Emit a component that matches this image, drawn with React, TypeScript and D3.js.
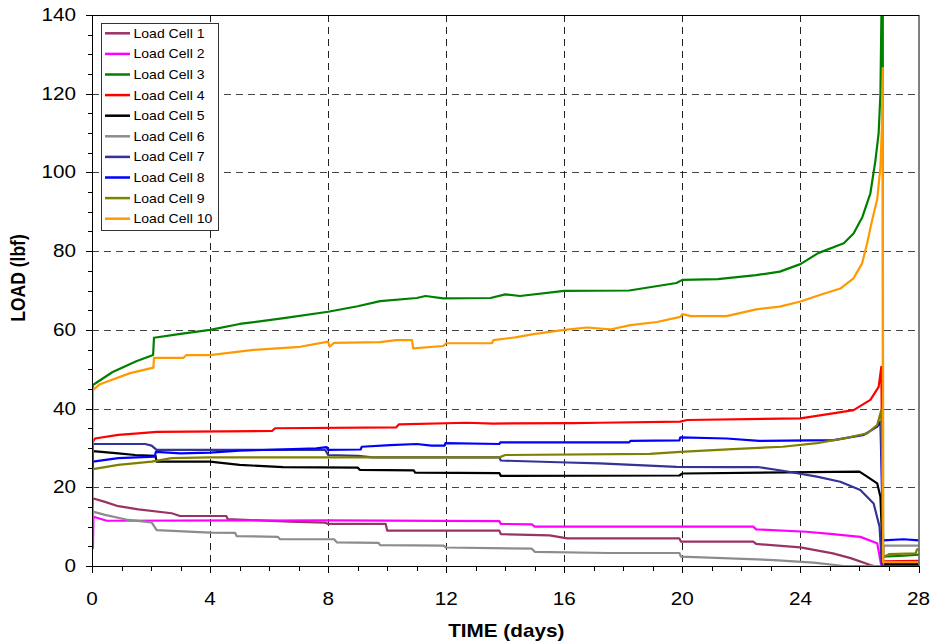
import React from "react";
import * as d3 from "d3";

const seriesNames = ["Load Cell 1","Load Cell 2","Load Cell 3","Load Cell 4","Load Cell 5","Load Cell 6","Load Cell 7","Load Cell 8","Load Cell 9","Load Cell 10"];
const seriesColors = ["#993366","#FF00FF","#008000","#FF0000","#000000","#8C8C8C","#333399","#0000FF","#808000","#FF9900"];

const xTicks = [0,4,8,12,16,20,24,28];
const yTicks = [0,20,40,60,80,100,120,140];

type P = [number, number];

const cell1: P[] = [[0,9],[0.02,17.2],[0.44,16.3],[0.89,15.2],[1.57,14.4],[2.7,13.4],[2.98,12.7],[4.55,12.7],[4.6,11.9],[6.7,11.3],[7.9,11.0],[8.0,10.7],[9.95,10.7],[10.0,9.0],[13.8,9.0],[13.85,8.1],[15.5,7.8],[16.1,7.0],[19.9,7.0],[19.95,6.2],[22.4,6.2],[22.5,5.6],[24,4.75],[25.1,3.2],[25.7,2.0],[26.37,0.25],[26.5,0],[28,0]];
const cell2: P[] = [[0,4.5],[0.03,4.5],[0.05,12.5],[0.5,11.5],[8,11.6],[13.8,11.4],[13.85,10.7],[14.9,10.6],[15,10.0],[22.4,10.0],[22.5,9.3],[24.2,8.7],[25.1,8.1],[26.03,7.4],[26.6,5.8],[26.73,0.5],[26.8,0],[28,0]];
const cell3: P[] = [[0,44],[0.03,46],[0.7,49.3],[1.5,52],[2.07,53.6],[2.1,58],[3,59],[4,60],[5,61.5],[6.5,63],[8,64.6],[9,66],[9.76,67.3],[11,68.1],[11.3,68.6],[11.9,68.0],[13.5,68.1],[14,69],[14.5,68.6],[16,69.9],[18.2,70],[19.8,71.9],[20,72.7],[21.2,72.9],[22.5,73.9],[23.3,74.8],[24,76.7],[24.6,79.5],[25.47,82],[25.8,84.5],[26.1,88.7],[26.37,94.7],[26.54,103],[26.65,110],[26.71,120],[26.76,150],[26.79,150],[26.8,2.4],[27.5,2.6],[28,2.9]];
const cell4: P[] = [[0,22],[0.03,31.6],[0.1,32.4],[0.89,33.3],[1.57,33.7],[2.19,34.1],[6.1,34.3],[6.2,35],[10.3,35.2],[10.4,36],[12.7,36.4],[13.6,36.2],[16.3,36.3],[17.2,36.4],[19.93,36.7],[20.16,37.1],[24,37.5],[25.1,38.8],[25.8,39.6],[26.37,42.2],[26.65,45.5],[26.74,50.6],[26.8,1.2],[28,1.3]];
const cell5: P[] = [[0,22],[0.03,29.2],[0.89,28.6],[1.46,28.2],[2.15,28.0],[2.19,26.5],[4,26.5],[5,25.7],[6.47,25.1],[9.0,25.0],[9.08,24.4],[10.9,24.3],[10.95,23.7],[13.8,23.6],[13.85,22.9],[19.9,23.0],[20,23.5],[26,24],[26.26,22.7],[26.6,21],[26.71,17.6],[26.8,0.5],[28,0.5]];
const cell6: P[] = [[0,10],[0.03,13.8],[0.44,13],[1.23,11.7],[2.02,11.1],[2.19,9.1],[4,8.5],[4.85,8.4],[4.9,7.6],[6.3,7.4],[6.37,6.8],[8.2,6.8],[8.3,6.0],[9.7,5.9],[9.76,5.3],[11.9,5.2],[12,4.7],[14.9,4.4],[15,3.6],[17.5,3.3],[19.9,3.3],[19.95,2.4],[23.1,1.5],[24.45,0.85],[25.47,0],[26.8,0],[26.82,5.2],[28,5.2]];
const cell7: P[] = [[0,22],[0.03,31],[1.8,31],[2.02,30.6],[2.19,29.5],[7.9,29.5],[8,28.2],[9,28.0],[9.5,27.6],[13.8,27.6],[13.85,26.8],[16.1,26.3],[17.2,26.1],[19.8,25.2],[21.5,25.1],[22.6,25.1],[23.4,24.2],[24.56,22.7],[25.35,21.4],[26.03,19.3],[26.48,15.9],[26.68,10.0],[26.76,0],[28,0]];
const cell8: P[] = [[0,22],[0.03,26.5],[0.89,27.4],[2.13,27.8],[2.16,29.0],[3,28.6],[4,28.8],[5,29.3],[7.6,29.9],[7.95,30.2],[8.0,29.5],[9.1,29.6],[9.14,30.3],[10.1,30.7],[11,31.0],[11.5,30.6],[11.95,30.6],[11.97,31.2],[13.8,31.0],[13.83,31.4],[18.2,31.4],[18.24,31.8],[19.9,31.9],[19.93,32.7],[21.5,32.4],[22.6,31.8],[25.13,32],[26.15,33.3],[26.6,35.4],[26.71,36.7],[26.8,6.5],[27.5,6.8],[28,6.5]];
const cell9: P[] = [[0,9],[0.03,24.6],[0.89,25.7],[2.02,26.5],[2.7,27.4],[4,27.6],[13.8,27.6],[14,28.2],[18.9,28.5],[19.93,29.0],[21.7,29.7],[23.4,30.3],[24.56,31.2],[25.47,32.4],[26.26,33.7],[26.6,35.8],[26.74,39.6],[26.8,2.2],[27.0,3.0],[27.9,3.2],[27.95,4.2],[28,4.2]];
const cell10: P[] = [[0,22],[0.03,44.7],[0.27,46.2],[1.29,49],[2.08,50.4],[2.1,52.9],[3.1,52.9],[3.2,53.6],[4,53.6],[5.47,54.9],[7.05,55.7],[8.0,57],[8.05,55.7],[8.2,56.7],[9.76,56.9],[10.3,57.4],[10.84,57.4],[10.88,55.3],[11.9,55.9],[12,56.6],[13.55,56.6],[13.6,57.4],[14.34,58.1],[14.96,58.9],[16,60],[16.77,60.6],[17.56,60.1],[18.24,61.2],[19.14,62],[19.93,63.3],[20.0,64.0],[20.3,63.5],[21.5,63.5],[22.5,65.2],[23.3,65.9],[24,67.2],[24.68,68.9],[25.35,70.5],[25.8,73.1],[26.09,76.9],[26.26,82],[26.43,87.9],[26.6,93.1],[26.71,101.4],[26.76,111.6],[26.79,126.5],[26.8,1.0],[28,1.0]];

const seriesData = [cell1, cell2, cell3, cell4, cell5, cell6, cell7, cell8, cell9, cell10];

const W = 931, H = 644;
const L = 92, R = 918.5, T = 15, B = 566;
const SX = 1.15;

export default function App() {
  const x = d3.scaleLinear().domain([0, 28]).range([L, R]);
  const y = d3.scaleLinear().domain([0, 140]).range([B, T]);
  const line = d3.line<P>().x(d => x(d[0])).y(d => y(d[1]));
  const xMinor = d3.range(0, 29, 1);
  const yMinor = d3.range(0, 141, 5);
  const font = "Arial, 'Liberation Sans', sans-serif";
  const legX = 101, legY = 23, legW = 117, legH = 207;
  return (
    <svg width={W} height={H} style={{ position: "absolute", left: 0, top: 0, background: "#fff" }} fontFamily={font}>
      <defs>
        <clipPath id="plotclip"><rect x={L} y={T} width={R - L} height={B - T} /></clipPath>
      </defs>
      <rect x={0} y={0} width={W} height={H} fill="#fff" />
      {yTicks.filter(v => v > 0 && v < 140).map(v => (
        <line key={"gy" + v} x1={L} x2={R} y1={Math.round(y(v)) + 0.5} y2={Math.round(y(v)) + 0.5} stroke="#444" strokeWidth={1} strokeDasharray="7,5" />
      ))}
      {xTicks.filter(v => v > 0 && v < 28).map(v => (
        <line key={"gx" + v} y1={T} y2={B} x1={Math.round(x(v)) + 0.5} x2={Math.round(x(v)) + 0.5} stroke="#222" strokeWidth={1} strokeDasharray="7,5" />
      ))}
      <g clipPath="url(#plotclip)">
        {seriesData.map((d, i) => (
          <path key={i} d={line(d) || ""} fill="none" stroke={seriesColors[i]} strokeWidth={2.2} strokeLinejoin="round" />
        ))}
      </g>
      <rect x={L + 0.5} y={T + 0.5} width={R - L} height={B - T} fill="none" stroke="#000" strokeWidth={1} />
      {yMinor.map(v => {
        const major = v % 20 === 0;
        const yy = Math.round(y(v)) + 0.5;
        return <line key={"yt" + v} x1={L - (major ? 6 : 4)} x2={L} y1={yy} y2={yy} stroke="#000" />;
      })}
      {yTicks.map(v => (
        <text key={"yl" + v} transform={`translate(${L - 16},${y(v) + 6}) scale(${SX},1)`} textAnchor="end" fontSize={18} fill="#000">{v}</text>
      ))}
      {xMinor.map(v => {
        const major = v % 4 === 0;
        const xx = Math.round(x(v)) + 0.5;
        return <line key={"xt" + v} y1={B} y2={B + (major ? 7 : 5)} x1={xx} x2={xx} stroke="#000" />;
      })}
      {xTicks.map(v => (
        <text key={"xl" + v} transform={`translate(${x(v)},${605}) scale(${SX},1)`} textAnchor="middle" fontSize={18} fill="#000">{v}</text>
      ))}
      <text transform={`translate(${(L + R) / 2 + 1},${637}) scale(${SX},1)`} textAnchor="middle" fontSize={18} fontWeight="bold">TIME (days)</text>
      <text transform={`translate(25,${278}) rotate(-90) scale(1,${SX})`} textAnchor="middle" fontSize={17.5} fontWeight="bold">LOAD (lbf)</text>
      <rect x={legX + 0.5} y={legY + 0.5} width={legW} height={legH} fill="#fff" stroke="#333" strokeWidth={1} />
      {seriesNames.map((n, i) => {
        const ly = 33.3 + i * 20.6;
        return (
          <g key={n}>
            <line x1={105} x2={130} y1={ly} y2={ly} stroke={seriesColors[i]} strokeWidth={2.5} />
            <text transform={`translate(133.5,${ly + 4.5}) scale(1.08,1)`} fontSize={13} fill="#000">{n}</text>
          </g>
        );
      })}
    </svg>
  );
}
